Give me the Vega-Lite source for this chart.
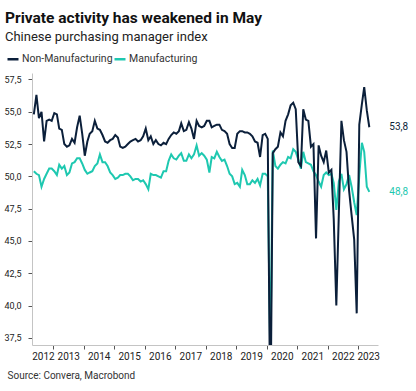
{
  "$schema": "https://vega.github.io/schema/vega-lite/v6.json",
  "width": 346,
  "height": 272,
  "autosize": {"type": "none"},
  "padding": {"left": 32, "top": 73, "right": 38, "bottom": 46},
  "title": {
    "text": "Private activity has weakened in May",
    "subtitle": "Chinese purchasing manager index",
    "anchor": "start",
    "frame": "group",
    "dx": -27,
    "offset": 8,
    "font": "Roboto",
    "fontSize": 15.5,
    "fontWeight": "bold",
    "color": "#111111",
    "subtitleFont": "Roboto",
    "subtitleFontSize": 13,
    "subtitleColor": "#222222",
    "subtitlePadding": 5
  },
  "config": {
    "view": {"stroke": null},
    "font": "Roboto",
    "locale": {"number": {"decimal": ",", "thousands": ".", "grouping": [3], "currency": ["", " €"]}}
  },
  "datasets": {
    "nonmfg": [
      {"date": "2012-05-15", "value": 54.8}, {"date": "2012-06-15", "value": 56.3}, {"date": "2012-07-15", "value": 54.5}, {"date": "2012-08-15", "value": 55.0},
      {"date": "2012-09-15", "value": 52.7}, {"date": "2012-10-15", "value": 54.3}, {"date": "2012-11-15", "value": 54.4}, {"date": "2012-12-15", "value": 54.3},
      {"date": "2013-01-15", "value": 54.9}, {"date": "2013-02-15", "value": 54.8}, {"date": "2013-03-15", "value": 53.7}, {"date": "2013-04-15", "value": 53.6},
      {"date": "2013-05-15", "value": 52.5}, {"date": "2013-06-15", "value": 52.3}, {"date": "2013-07-15", "value": 52.4}, {"date": "2013-08-15", "value": 52.9},
      {"date": "2013-09-15", "value": 52.6}, {"date": "2013-10-15", "value": 53.8}, {"date": "2013-11-15", "value": 54.7}, {"date": "2013-12-15", "value": 53.3},
      {"date": "2014-01-15", "value": 51.6}, {"date": "2014-02-15", "value": 52.7}, {"date": "2014-03-15", "value": 53.3}, {"date": "2014-04-15", "value": 53.5},
      {"date": "2014-05-15", "value": 54.3}, {"date": "2014-06-15", "value": 53.7}, {"date": "2014-07-15", "value": 53.6}, {"date": "2014-08-15", "value": 53.2},
      {"date": "2014-09-15", "value": 52.7}, {"date": "2014-10-15", "value": 52.6}, {"date": "2014-11-15", "value": 52.8}, {"date": "2014-12-15", "value": 52.9},
      {"date": "2015-01-15", "value": 53.2}, {"date": "2015-02-15", "value": 53.0}, {"date": "2015-03-15", "value": 52.3}, {"date": "2015-04-15", "value": 52.2},
      {"date": "2015-05-15", "value": 52.3}, {"date": "2015-06-15", "value": 52.5}, {"date": "2015-07-15", "value": 52.7}, {"date": "2015-08-15", "value": 52.8},
      {"date": "2015-09-15", "value": 52.9}, {"date": "2015-10-15", "value": 52.7}, {"date": "2015-11-15", "value": 52.8}, {"date": "2015-12-15", "value": 53.1},
      {"date": "2016-01-15", "value": 53.7}, {"date": "2016-02-15", "value": 52.8}, {"date": "2016-03-15", "value": 53.1}, {"date": "2016-04-15", "value": 52.5},
      {"date": "2016-05-15", "value": 52.8}, {"date": "2016-06-15", "value": 52.5}, {"date": "2016-07-15", "value": 52.4}, {"date": "2016-08-15", "value": 52.6},
      {"date": "2016-09-15", "value": 52.5}, {"date": "2016-10-15", "value": 52.9}, {"date": "2016-11-15", "value": 53.2}, {"date": "2016-12-15", "value": 53.4},
      {"date": "2017-01-15", "value": 53.3}, {"date": "2017-02-15", "value": 53.5}, {"date": "2017-03-15", "value": 54.1}, {"date": "2017-04-15", "value": 53.5},
      {"date": "2017-05-15", "value": 53.6}, {"date": "2017-06-15", "value": 54.2}, {"date": "2017-07-15", "value": 53.7}, {"date": "2017-08-15", "value": 52.9},
      {"date": "2017-09-15", "value": 54.3}, {"date": "2017-10-15", "value": 53.9}, {"date": "2017-11-15", "value": 53.8}, {"date": "2017-12-15", "value": 53.9},
      {"date": "2018-01-15", "value": 54.3}, {"date": "2018-02-15", "value": 54.3}, {"date": "2018-03-15", "value": 53.8}, {"date": "2018-04-15", "value": 53.9},
      {"date": "2018-05-15", "value": 54.0}, {"date": "2018-06-15", "value": 54.0}, {"date": "2018-07-15", "value": 53.6}, {"date": "2018-08-15", "value": 53.5},
      {"date": "2018-09-15", "value": 53.3}, {"date": "2018-10-15", "value": 52.5}, {"date": "2018-11-15", "value": 52.2}, {"date": "2018-12-15", "value": 52.2},
      {"date": "2019-01-15", "value": 53.3}, {"date": "2019-02-15", "value": 53.5}, {"date": "2019-03-15", "value": 53.5}, {"date": "2019-04-15", "value": 53.4},
      {"date": "2019-05-15", "value": 53.4}, {"date": "2019-06-15", "value": 53.3}, {"date": "2019-07-15", "value": 53.1}, {"date": "2019-08-15", "value": 52.7},
      {"date": "2019-09-15", "value": 52.6}, {"date": "2019-10-15", "value": 51.5}, {"date": "2019-11-15", "value": 53.2}, {"date": "2019-12-15", "value": 53.3},
      {"date": "2020-01-15", "value": 52.9}, {"date": "2020-02-15", "value": 30.1}, {"date": "2020-03-15", "value": 51.8}, {"date": "2020-04-15", "value": 52.1},
      {"date": "2020-05-15", "value": 52.3}, {"date": "2020-06-15", "value": 53.4}, {"date": "2020-07-15", "value": 53.1}, {"date": "2020-08-15", "value": 54.3},
      {"date": "2020-09-15", "value": 54.8}, {"date": "2020-10-15", "value": 55.5}, {"date": "2020-11-15", "value": 55.7}, {"date": "2020-12-15", "value": 55.2},
      {"date": "2021-01-15", "value": 51.1}, {"date": "2021-02-15", "value": 50.8}, {"date": "2021-03-15", "value": 55.2}, {"date": "2021-04-15", "value": 54.4},
      {"date": "2021-05-15", "value": 54.3}, {"date": "2021-06-15", "value": 52.3}, {"date": "2021-07-15", "value": 52.5}, {"date": "2021-08-15", "value": 45.2},
      {"date": "2021-09-15", "value": 52.4}, {"date": "2021-10-15", "value": 51.6}, {"date": "2021-11-15", "value": 51.1}, {"date": "2021-12-15", "value": 52.0},
      {"date": "2022-01-15", "value": 50.3}, {"date": "2022-02-15", "value": 50.5}, {"date": "2022-03-15", "value": 46.7}, {"date": "2022-04-15", "value": 40.0},
      {"date": "2022-05-15", "value": 47.1}, {"date": "2022-06-15", "value": 54.3}, {"date": "2022-07-15", "value": 52.8}, {"date": "2022-08-15", "value": 51.9},
      {"date": "2022-09-15", "value": 48.9}, {"date": "2022-10-15", "value": 47.0}, {"date": "2022-11-15", "value": 45.1}, {"date": "2022-12-15", "value": 39.4},
      {"date": "2023-01-15", "value": 54.0}, {"date": "2023-02-15", "value": 55.6}, {"date": "2023-03-15", "value": 56.9}, {"date": "2023-04-15", "value": 55.1},
      {"date": "2023-05-15", "value": 53.8}
    ],
    "mfg": [
      {"date": "2012-05-15", "value": 50.4}, {"date": "2012-06-15", "value": 50.2}, {"date": "2012-07-15", "value": 50.1}, {"date": "2012-08-15", "value": 49.2},
      {"date": "2012-09-15", "value": 49.8}, {"date": "2012-10-15", "value": 50.2}, {"date": "2012-11-15", "value": 50.6}, {"date": "2012-12-15", "value": 50.6},
      {"date": "2013-01-15", "value": 50.4}, {"date": "2013-02-15", "value": 50.1}, {"date": "2013-03-15", "value": 50.9}, {"date": "2013-04-15", "value": 50.6},
      {"date": "2013-05-15", "value": 50.8}, {"date": "2013-06-15", "value": 50.1}, {"date": "2013-07-15", "value": 50.3}, {"date": "2013-08-15", "value": 51.0},
      {"date": "2013-09-15", "value": 51.1}, {"date": "2013-10-15", "value": 51.4}, {"date": "2013-11-15", "value": 51.4}, {"date": "2013-12-15", "value": 51.0},
      {"date": "2014-01-15", "value": 50.5}, {"date": "2014-02-15", "value": 50.2}, {"date": "2014-03-15", "value": 50.3}, {"date": "2014-04-15", "value": 50.4},
      {"date": "2014-05-15", "value": 50.8}, {"date": "2014-06-15", "value": 51.0}, {"date": "2014-07-15", "value": 51.7}, {"date": "2014-08-15", "value": 51.1},
      {"date": "2014-09-15", "value": 51.1}, {"date": "2014-10-15", "value": 50.8}, {"date": "2014-11-15", "value": 50.3}, {"date": "2014-12-15", "value": 50.1},
      {"date": "2015-01-15", "value": 49.8}, {"date": "2015-02-15", "value": 49.9}, {"date": "2015-03-15", "value": 50.1}, {"date": "2015-04-15", "value": 50.1},
      {"date": "2015-05-15", "value": 50.2}, {"date": "2015-06-15", "value": 50.2}, {"date": "2015-07-15", "value": 50.0}, {"date": "2015-08-15", "value": 49.7},
      {"date": "2015-09-15", "value": 49.8}, {"date": "2015-10-15", "value": 49.8}, {"date": "2015-11-15", "value": 49.6}, {"date": "2015-12-15", "value": 49.7},
      {"date": "2016-01-15", "value": 49.4}, {"date": "2016-02-15", "value": 49.0}, {"date": "2016-03-15", "value": 50.2}, {"date": "2016-04-15", "value": 50.1},
      {"date": "2016-05-15", "value": 50.1}, {"date": "2016-06-15", "value": 50.0}, {"date": "2016-07-15", "value": 49.9}, {"date": "2016-08-15", "value": 50.4},
      {"date": "2016-09-15", "value": 50.4}, {"date": "2016-10-15", "value": 51.2}, {"date": "2016-11-15", "value": 51.7}, {"date": "2016-12-15", "value": 51.4},
      {"date": "2017-01-15", "value": 51.3}, {"date": "2017-02-15", "value": 51.6}, {"date": "2017-03-15", "value": 51.8}, {"date": "2017-04-15", "value": 51.2},
      {"date": "2017-05-15", "value": 51.2}, {"date": "2017-06-15", "value": 51.7}, {"date": "2017-07-15", "value": 51.4}, {"date": "2017-08-15", "value": 51.7},
      {"date": "2017-09-15", "value": 52.4}, {"date": "2017-10-15", "value": 51.6}, {"date": "2017-11-15", "value": 51.8}, {"date": "2017-12-15", "value": 51.6},
      {"date": "2018-01-15", "value": 51.3}, {"date": "2018-02-15", "value": 50.3}, {"date": "2018-03-15", "value": 51.5}, {"date": "2018-04-15", "value": 51.4},
      {"date": "2018-05-15", "value": 51.9}, {"date": "2018-06-15", "value": 51.5}, {"date": "2018-07-15", "value": 51.2}, {"date": "2018-08-15", "value": 51.3},
      {"date": "2018-09-15", "value": 50.8}, {"date": "2018-10-15", "value": 50.2}, {"date": "2018-11-15", "value": 50.0}, {"date": "2018-12-15", "value": 49.4},
      {"date": "2019-01-15", "value": 49.5}, {"date": "2019-02-15", "value": 49.2}, {"date": "2019-03-15", "value": 50.5}, {"date": "2019-04-15", "value": 50.1},
      {"date": "2019-05-15", "value": 49.4}, {"date": "2019-06-15", "value": 49.4}, {"date": "2019-07-15", "value": 49.7}, {"date": "2019-08-15", "value": 49.5},
      {"date": "2019-09-15", "value": 49.8}, {"date": "2019-10-15", "value": 49.3}, {"date": "2019-11-15", "value": 50.2}, {"date": "2019-12-15", "value": 50.2},
      {"date": "2020-01-15", "value": 50.0}, {"date": "2020-02-15", "value": 35.7}, {"date": "2020-03-15", "value": 52.0}, {"date": "2020-04-15", "value": 50.8},
      {"date": "2020-05-15", "value": 50.6}, {"date": "2020-06-15", "value": 50.9}, {"date": "2020-07-15", "value": 51.1}, {"date": "2020-08-15", "value": 51.0},
      {"date": "2020-09-15", "value": 51.5}, {"date": "2020-10-15", "value": 51.4}, {"date": "2020-11-15", "value": 52.1}, {"date": "2020-12-15", "value": 51.9},
      {"date": "2021-01-15", "value": 51.3}, {"date": "2021-02-15", "value": 50.6}, {"date": "2021-03-15", "value": 51.9}, {"date": "2021-04-15", "value": 51.1},
      {"date": "2021-05-15", "value": 51.0}, {"date": "2021-06-15", "value": 50.9}, {"date": "2021-07-15", "value": 50.4}, {"date": "2021-08-15", "value": 50.1},
      {"date": "2021-09-15", "value": 49.6}, {"date": "2021-10-15", "value": 49.2}, {"date": "2021-11-15", "value": 50.1}, {"date": "2021-12-15", "value": 50.3},
      {"date": "2022-01-15", "value": 50.1}, {"date": "2022-02-15", "value": 50.2}, {"date": "2022-03-15", "value": 49.5}, {"date": "2022-04-15", "value": 47.4},
      {"date": "2022-05-15", "value": 49.6}, {"date": "2022-06-15", "value": 50.2}, {"date": "2022-07-15", "value": 49.0}, {"date": "2022-08-15", "value": 49.4},
      {"date": "2022-09-15", "value": 50.1}, {"date": "2022-10-15", "value": 49.2}, {"date": "2022-11-15", "value": 48.0}, {"date": "2022-12-15", "value": 47.0},
      {"date": "2023-01-15", "value": 50.1}, {"date": "2023-02-15", "value": 52.6}, {"date": "2023-03-15", "value": 51.9}, {"date": "2023-04-15", "value": 49.2},
      {"date": "2023-05-15", "value": 48.8}
    ]
  },
  "layer": [
    {
      "data": {"name": "mfg"},
      "mark": {"type": "line", "strokeWidth": 2, "clip": true},
      "encoding": {
        "x": {
          "field": "date", "type": "temporal",
          "scale": {"domain": [{"year": 2012, "month": 4, "date": 23}, {"year": 2023, "month": 8, "date": 27}]},
          "axis": {
            "orient": "bottom",
            "values": [
              {"year": 2013, "month": 1, "date": 1}, {"year": 2014, "month": 1, "date": 1}, {"year": 2015, "month": 1, "date": 1},
              {"year": 2016, "month": 1, "date": 1}, {"year": 2017, "month": 1, "date": 1}, {"year": 2018, "month": 1, "date": 1},
              {"year": 2019, "month": 1, "date": 1}, {"year": 2020, "month": 1, "date": 1}, {"year": 2021, "month": 1, "date": 1},
              {"year": 2022, "month": 1, "date": 1}, {"year": 2023, "month": 1, "date": 1}
            ],
            "tickCount": 30,
            "labels": false, "grid": false, "title": null,
            "domainColor": "#c4c4c4", "tickColor": "#555555", "tickSize": 4
          }
        },
        "y": {
          "field": "value", "type": "quantitative",
          "scale": {"domain": [36.95, 58.0], "nice": false, "zero": false},
          "axis": {
            "values": [37.5, 40, 42.5, 45, 47.5, 50, 52.5, 55, 57.5],
            "tickCount": 30,
            "format": ".1f", "title": null, "grid": false,
            "labelOverlap": false, "labelFlush": false,
            "labelFontSize": 9, "labelColor": "#222222", "labelPadding": 7,
            "tickSize": 4, "tickColor": "#555555", "domainColor": "#c4c4c4"
          }
        },
        "color": {
          "datum": "Manufacturing",
          "scale": {"domain": ["Non-Manufacturing", "Manufacturing"], "range": ["#0b1f3a", "#1ec8b0"]},
          "legend": {
            "orient": "none", "legendX": -26, "legendY": -21, "direction": "horizontal", "title": null,
            "symbolType": "stroke", "symbolSize": 121, "symbolStrokeWidth": 2.5,
            "labelFontSize": 10.5, "labelColor": "#333333", "labelOffset": 2, "columnPadding": -6
          }
        }
      }
    },
    {
      "data": {"name": "nonmfg"},
      "mark": {"type": "line", "strokeWidth": 2, "clip": true},
      "encoding": {
        "x": {
          "field": "date", "type": "temporal",
          "axis": {
            "orient": "bottom",
            "values": [
              {"year": 2012, "month": 9, "date": 1}, {"year": 2013, "month": 7, "date": 1}, {"year": 2014, "month": 7, "date": 1},
              {"year": 2015, "month": 7, "date": 1}, {"year": 2016, "month": 7, "date": 1}, {"year": 2017, "month": 7, "date": 1},
              {"year": 2018, "month": 7, "date": 1}, {"year": 2019, "month": 7, "date": 1}, {"year": 2020, "month": 7, "date": 1},
              {"year": 2021, "month": 7, "date": 1}, {"year": 2022, "month": 7, "date": 1}, {"year": 2023, "month": 5, "date": 1}
            ],
            "tickCount": 30,
            "format": "%Y", "ticks": false, "domain": false, "grid": false,
            "labelOverlap": false, "labelFlush": false,
            "labelFontSize": 10, "labelColor": "#222222", "labelPadding": 6,
            "title": "Source: Convera, Macrobond", "titleAnchor": "start", "titleAlign": "left",
            "titleX": -25, "titleY": 33, "titleBaseline": "alphabetic",
            "titleFontSize": 10, "titleFontWeight": "normal", "titleColor": "#333333"
          }
        },
        "y": {"field": "value", "type": "quantitative"},
        "color": {"datum": "Non-Manufacturing"}
      }
    },
    {
      "data": {"name": "nonmfg"},
      "transform": [{"filter": "year(datum.date) == 2023 && month(datum.date) == 4"}],
      "mark": {"type": "text", "align": "left", "baseline": "middle", "dx": 20, "fontSize": 10, "color": "#0b1f3a"},
      "encoding": {
        "x": {"field": "date", "type": "temporal", "axis": null},
        "y": {"field": "value", "type": "quantitative"},
        "text": {"field": "value", "type": "quantitative", "format": ".1f"}
      }
    },
    {
      "data": {"name": "mfg"},
      "transform": [{"filter": "year(datum.date) == 2023 && month(datum.date) == 4"}],
      "mark": {"type": "text", "align": "left", "baseline": "middle", "dx": 20, "fontSize": 10, "color": "#1ec8b0"},
      "encoding": {
        "x": {"field": "date", "type": "temporal", "axis": null},
        "y": {"field": "value", "type": "quantitative"},
        "text": {"field": "value", "type": "quantitative", "format": ".1f"}
      }
    }
  ],
  "resolve": {"axis": {"x": "independent"}}
}
